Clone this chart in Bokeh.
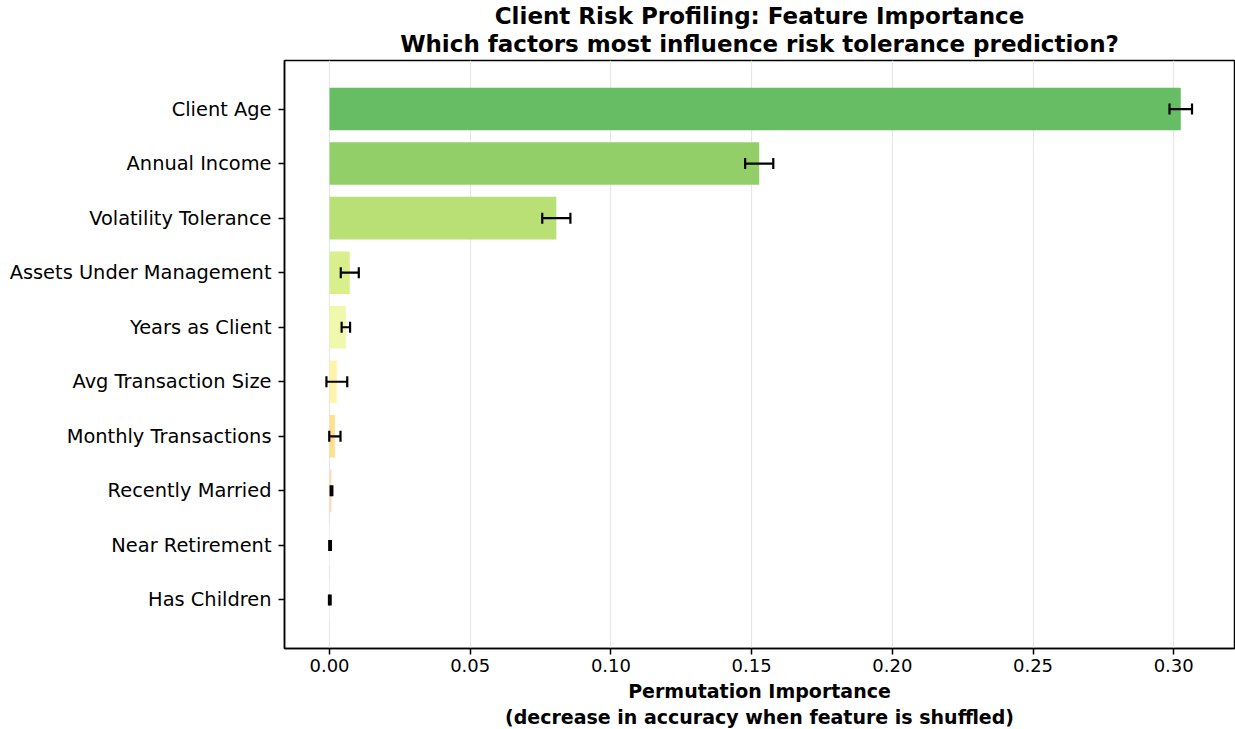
from bokeh.plotting import figure
from bokeh.models import (ColumnDataSource, Range1d, FixedTicker, PrintfTickFormatter,
                          Whisker, TeeHead, Title)
from bokeh.embed import file_html
from bokeh.resources import INLINE

# Permutation importance per feature (mean and std over shuffles)
features = ["Client Age", "Annual Income", "Volatility Tolerance", "Assets Under Management",
            "Years as Client", "Avg Transaction Size", "Monthly Transactions",
            "Recently Married", "Near Retirement", "Has Children"]
importance = [0.3025, 0.1527, 0.0806, 0.0072, 0.0058, 0.0026, 0.0019, 0.0007, 0.0002, 0.0001]
std_dev = [0.0040, 0.0050, 0.0050, 0.0032, 0.0015, 0.0037, 0.0020, 0.0003, 0.0003, 0.0003]
bar_colors = ["#66bd63", "#93cf69", "#b9e075", "#d9ef8b", "#eff8ab", "#fff3a9",
              "#fedf8b", "#fcdbb5", "#fdfdfd", "#ffffff"]
x_ticks = [0.0, 0.05, 0.10, 0.15, 0.20, 0.25, 0.30]

pos = list(range(len(features)))
src = ColumnDataSource(dict(
    y=pos, value=importance, color=bar_colors,
    lower=[v - s for v, s in zip(importance, std_dev)],
    upper=[v + s for v, s in zip(importance, std_dev)],
))

FONT = "DejaVu Sans"

p = figure(width=1235, height=729, output_backend="svg", toolbar_location=None,
           x_range=Range1d(-0.016, 0.3216), y_range=Range1d(len(features) - 0.11, -0.89),
           min_border_left=284, min_border_right=1, min_border_top=60, min_border_bottom=81)

p.hbar(y="y", left=0, right="value", height=0.78, color="color", line_color=None, source=src)

head = dict(size=11, line_width=2.2, line_color="black")
p.add_layout(Whisker(source=src, base="y", lower="lower", upper="upper", dimension="width",
                     line_width=2.2, line_color="black", level="overlay",
                     lower_head=TeeHead(**head), upper_head=TeeHead(**head)))

# axes
p.yaxis.ticker = FixedTicker(ticks=pos)
p.yaxis.major_label_overrides = {i: f for i, f in enumerate(features)}
p.yaxis.minor_tick_line_color = None
p.xaxis.ticker = FixedTicker(ticks=x_ticks)
p.xaxis.formatter = PrintfTickFormatter(format="%.2f")
p.xaxis.minor_tick_line_color = None
for ax in (p.xaxis[0], p.yaxis[0]):
    ax.major_label_text_font = FONT
    ax.major_label_text_color = "black"
    ax.major_tick_line_color = "black"
    ax.major_tick_line_width = 1.5
    ax.major_tick_out = 6
    ax.major_tick_in = 0
    ax.axis_line_color = "black"
    ax.axis_line_width = 1.5
p.yaxis.major_label_text_font_size = "19.4px"
p.xaxis.major_label_text_font_size = "18px"
p.yaxis.major_label_standoff = 7
p.xaxis.major_label_standoff = 4

p.ygrid.grid_line_color = None
p.xgrid.grid_line_color = "#e6e6e6"
p.xgrid.grid_line_width = 1.2
p.outline_line_color = "black"
p.outline_line_width = 1.5
p.background_fill_color = "white"
p.border_fill_color = "white"

# x-axis label (two lines, nearest the axis first)
for txt, gap in [("Permutation Importance", 6), ("(decrease in accuracy when feature is shuffled)", -2)]:
    p.add_layout(Title(text=txt, align="center", text_font=FONT, text_font_size="19px",
                       text_font_style="bold", text_color="black", standoff=gap), "below")

# chart title (two lines, nearest the frame first)
for txt, gap in [("Which factors most influence risk tolerance prediction?", 7),
                 ("Client Risk Profiling: Feature Importance", -7)]:
    p.add_layout(Title(text=txt, align="center", text_font=FONT, text_font_size="23px",
                       text_font_style="bold", text_color="black", standoff=gap), "above")

open("out.html", "w").write(file_html(p, INLINE))
